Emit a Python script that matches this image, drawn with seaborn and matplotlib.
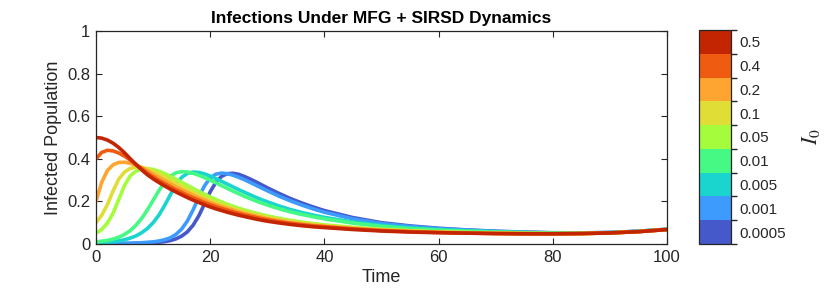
import numpy as np
import pandas as pd
import matplotlib
matplotlib.use("Agg")
import matplotlib.pyplot as plt
import matplotlib as mpl
import seaborn as sns

# ---------------- data ----------------
t = [0, 1, 2, 3, 4, 5, 6, 7, 8, 9, 10, 11, 12, 13, 14, 15, 16, 17, 18, 19, 20,
     21, 22, 23, 24, 25, 26, 27, 28, 29, 30, 32, 34, 36, 38, 40, 45, 50, 55, 60,
     65, 70, 75, 80, 85, 90, 95, 100]

i0_labels = ["0.0005", "0.001", "0.005", "0.01", "0.05", "0.1", "0.2", "0.4", "0.5"]

I_0p0005 = [.0005, .0006, .0008, .001, .0013, .0017, .0022, .003, .0038, .0048, .006,
            .008, .011, .016, .024, .037, .057, .088, .132, .188, .245,
            .290, .318, .330, .332, .327, .317, .305, .292, .278, .264,
            .238, .214, .193, .174, .157, .124, .100, .085, .074,
            .066, .060, .056, .053, .052, .054, .060, .069]
I_0p001 = [.001, .0012, .0015, .002, .0025, .003, .004, .005, .006, .008, .010,
           .014, .020, .029, .045, .070, .108, .160, .220, .273, .310,
           .328, .333, .330, .323, .313, .302, .289, .276, .263, .250,
           .225, .203, .183, .165, .149, .118, .096, .082, .072,
           .065, .059, .055, .052, .052, .054, .060, .069]
I_0p005 = [.005, .006, .008, .011, .015, .020, .028, .038, .053, .073, .100,
           .135, .180, .230, .278, .313, .331, .338, .336, .329, .319,
           .307, .294, .281, .268, .255, .243, .231, .219, .208, .198,
           .179, .162, .148, .136, .125, .103, .087, .076, .068,
           .062, .057, .054, .052, .051, .053, .059, .069]
I_0p01 = [.010, .013, .017, .023, .032, .045, .063, .088, .120, .160, .205,
          .250, .290, .318, .334, .340, .338, .332, .323, .312, .300,
          .287, .274, .261, .248, .236, .224, .213, .202, .192, .183,
          .166, .151, .139, .128, .118, .098, .083, .072, .065,
          .060, .056, .053, .051, .051, .053, .059, .069]
I_0p05 = [.050, .068, .098, .145, .210, .275, .320, .342, .352, .354, .350,
          .342, .331, .318, .304, .290, .275, .261, .247, .234, .221,
          .209, .197, .187, .177, .168, .160, .152, .145, .138, .132,
          .121, .111, .103, .096, .090, .078, .069, .062, .057,
          .054, .051, .050, .049, .049, .052, .058, .068]
I_0p1 = [.100, .135, .185, .250, .305, .338, .355, .361, .360, .353, .342,
         .329, .315, .300, .285, .271, .257, .243, .230, .218, .206,
         .195, .185, .176, .167, .159, .151, .144, .137, .131, .125,
         .115, .106, .098, .092, .086, .075, .067, .061, .056,
         .053, .051, .049, .048, .049, .052, .058, .068]
I_0p2 = [.200, .290, .345, .372, .383, .384, .379, .370, .358, .344, .329,
         .313, .298, .283, .269, .255, .242, .229, .217, .206, .195,
         .185, .176, .167, .159, .151, .144, .137, .131, .125, .119,
         .110, .101, .094, .088, .083, .073, .065, .059, .055,
         .052, .050, .049, .048, .049, .052, .058, .068]
I_0p4 = [.400, .430, .440, .437, .427, .412, .394, .374, .354, .334, .316,
         .299, .284, .269, .255, .242, .229, .217, .206, .195, .185,
         .176, .167, .159, .151, .144, .137, .131, .125, .119, .114,
         .105, .097, .091, .085, .081, .071, .063, .058, .054,
         .051, .049, .048, .048, .049, .052, .058, .068]
I_0p5 = [.500, .497, .488, .473, .453, .428, .400, .373, .348, .325, .306,
         .289, .273, .258, .244, .231, .218, .206, .195, .184, .174,
         .165, .157, .149, .142, .135, .129, .123, .117, .112, .107,
         .099, .092, .086, .081, .077, .068, .061, .056, .053,
         .051, .049, .048, .048, .049, .052, .058, .068]

series = [I_0p0005, I_0p001, I_0p005, I_0p01, I_0p05, I_0p1, I_0p2, I_0p4, I_0p5]

# ---------------- styling ----------------
sns.set_theme(style="white")
plt.rcParams["font.family"] = ["Liberation Sans", "DejaVu Sans"]

colors = [mpl.colormaps["turbo"](v) for v in np.linspace(0.1, 0.9, len(i0_labels))]
palette = dict(zip(i0_labels, colors))

rows = []
for lab, vals in zip(i0_labels, series):
    for tt, v in zip(t, vals):
        rows.append((tt, v, lab))
df = pd.DataFrame(rows, columns=["Time", "Infected", "I0"])

fig = plt.figure(figsize=(8.4, 3.0), dpi=100)
ax = fig.add_axes([96 / 840, 56 / 300, (667 - 96) / 840, (244 - 31) / 300])

sns.lineplot(data=df, x="Time", y="Infected", hue="I0", hue_order=i0_labels,
             palette=palette, linewidth=2.6, legend=False, ax=ax, sort=True)

ax.set_xlim(0, 100)
ax.set_ylim(0, 1)
ax.set_xticks([0, 20, 40, 60, 80, 100])
ax.set_yticks([0, 0.2, 0.4, 0.6, 0.8, 1])
ax.set_yticklabels(["0", "0.2", "0.4", "0.6", "0.8", "1"])
ax.tick_params(direction="in", length=4, width=0.8, colors="#262626",
               labelsize=12, top=True, right=True, bottom=True, left=True,
               pad=4)
for lbl in ax.get_xticklabels() + ax.get_yticklabels():
    lbl.set_color("#262626")
for sp in ax.spines.values():
    sp.set_visible(True)
    sp.set_color("#262626")
    sp.set_linewidth(0.9)
ax.set_xlabel("Time", fontsize=13, color="#262626", labelpad=3)
ax.set_ylabel("Infected Population", fontsize=13, color="#262626", labelpad=4)
ax.set_title("Infections Under MFG + SIRSD Dynamics", fontsize=12.5,
             fontweight="bold", color="black", pad=6)

# discrete colorbar
cax = fig.add_axes([699 / 840, 56 / 300, (731 - 699) / 840, (244 - 30) / 300])
cmap = mpl.colors.ListedColormap(colors)
norm = mpl.colors.BoundaryNorm(np.arange(len(colors) + 1), cmap.N)
cb = mpl.colorbar.ColorbarBase(cax, cmap=cmap, norm=norm, orientation="vertical")
cb.set_ticks(np.arange(len(colors)) + 0.5)
cb.set_ticklabels(i0_labels)
cax.tick_params(labelsize=11, direction="in", length=3, width=0.6,
                colors="#262626", pad=6)
cb.outline.set_linewidth(0.9)
cb.outline.set_edgecolor("#262626")
cb.set_label(r"$I_0$", fontsize=16, rotation=90, labelpad=10,
             math_fontfamily="stix")

fig.savefig("out.png", dpi=100)
